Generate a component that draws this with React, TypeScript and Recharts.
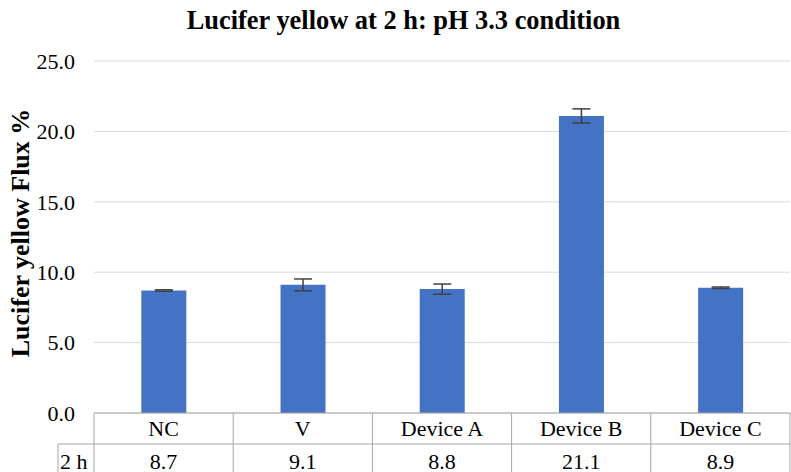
import React from 'react';
import { BarChart, Bar, XAxis, YAxis, CartesianGrid, ErrorBar } from 'recharts';

const categories = ['NC', 'V', 'Device A', 'Device B', 'Device C'];
const flux = [8.7, 9.1, 8.8, 21.1, 8.9];
const fluxErr = [0.05, 0.42, 0.36, 0.5, 0.05];
const yTicks = [0, 5, 10, 15, 20, 25];
const rowLabel = '2 h';

const data = categories.map((name, i) => ({ name, value: flux[i], err: fluxErr[i] }));

const W = 791;
const H = 472;
const LEFT = 94;
const TOP = 61;
const PLOT_BOTTOM = 413;
const RIGHT = 1;
const BAND = (W - LEFT - RIGHT) / categories.length;
const ROW1 = 31;
const FONT = '"Liberation Serif", serif';
const LINE = '#A6A6A6';
const FS = 22;

const TableTick = (props: any) => {
  const { x, payload, index } = props;
  const top = PLOT_BOTTOM;
  const half = BAND / 2;
  const mid = top + ROW1;
  return (
    <g style={{ fontFamily: FONT }}>
      {index === 0 && (
        <g>
          <line x1={x - half} x2={x - half} y1={top} y2={H} stroke={LINE} />
          <line x1={58} x2={x - half} y1={mid} y2={mid} stroke={LINE} />
          <line x1={58} x2={58} y1={mid} y2={H} stroke={LINE} />
          <text x={60} y={469} fontSize={FS} fill="#000">{rowLabel}</text>
        </g>
      )}
      <line x1={x + half} x2={x + half} y1={top} y2={H} stroke={LINE} />
      <line x1={x - half} x2={x + half} y1={mid} y2={mid} stroke={LINE} />
      <text x={x} y={436} textAnchor="middle" fontSize={FS} fill="#000">
        {payload.value}
      </text>
      <text x={x} y={469} textAnchor="middle" fontSize={FS} fill="#000">
        {flux[index].toFixed(1)}
      </text>
    </g>
  );
};

const YLabel = (props: any) => {
  const { viewBox } = props;
  const cy = viewBox.y + viewBox.height / 2 - 4;
  return (
    <text
      x={29}
      y={cy}
      transform={`rotate(-90, 29, ${cy})`}
      textAnchor="middle"
      style={{ fontFamily: FONT }}
      fontWeight="bold"
      fontSize={26}
      fill="#000"
    >
      Lucifer yellow Flux %
    </text>
  );
};

export default function App() {
  return (
    <div style={{ position: 'absolute', left: 0, top: 0, width: W, height: H, overflow: 'hidden', background: '#fff', fontFamily: FONT }}>
      <div
        style={{
          position: 'absolute',
          left: 8,
          top: 3,
          width: W,
          textAlign: 'center',
          fontFamily: FONT,
          fontWeight: 'bold',
          fontSize: 26.4,
          lineHeight: '34px',
          color: '#000',
          whiteSpace: 'nowrap',
        }}
      >
        Lucifer yellow at 2 h: pH 3.3 condition
      </div>
      <BarChart
        width={W}
        height={H + 20}
        data={data}
        margin={{ top: TOP, right: RIGHT, left: 0, bottom: 0 }}
        barCategoryGap="34%"
        style={{ fontFamily: FONT }}
      >
        <CartesianGrid vertical={false} stroke="#D9D9D9" />
        <XAxis
          dataKey="name"
          height={H + 20 - PLOT_BOTTOM}
          tickLine={false}
          tickSize={0}
          tickMargin={0}
          axisLine={{ stroke: LINE }}
          tick={<TableTick />}
          interval={0}
        />
        <YAxis
          width={LEFT}
          domain={[0, 25]}
          ticks={yTicks}
          tickFormatter={(v: number) => v.toFixed(1)}
          axisLine={false}
          tickLine={false}
          tickSize={0}
          tickMargin={19}
          tick={{ fontFamily: FONT, fontSize: FS, fill: '#000' }}
          label={<YLabel />}
        />
        <Bar dataKey="value" fill="#4472C4" isAnimationActive={false}>
          <ErrorBar dataKey="err" width={9} stroke="#404040" strokeWidth={1.5} />
        </Bar>
      </BarChart>
    </div>
  );
}
